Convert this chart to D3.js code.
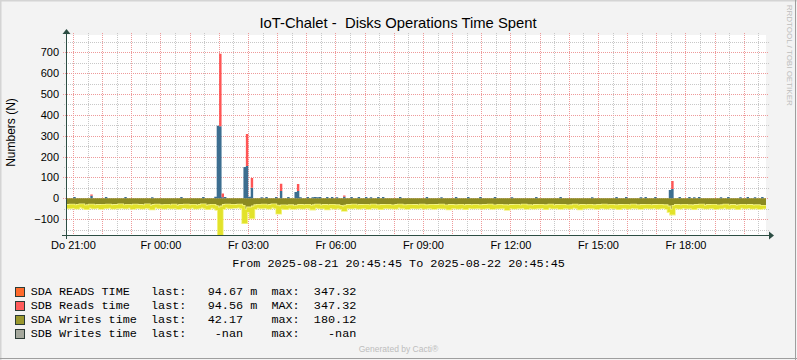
<!DOCTYPE html>
<html><head><meta charset="utf-8">
<script src="https://cdn.jsdelivr.net/npm/d3@7"></script>
<style>
html,body{margin:0;padding:0;background:#F3F3F3;}
svg{display:block;}
text{font-family:"Liberation Sans",Arial,sans-serif;white-space:pre;}
.mono{font-family:"Liberation Mono","Courier New",monospace;white-space:pre;}
</style>
</head><body>
<svg id="c" width="797" height="360" xml:space="preserve"></svg>
<script>
const title = "IoT-Chalet -  Disks Operations Time Spent";
const yLabel = "Numbers (N)";
const yTicks = [-100, 0, 100, 200, 300, 400, 500, 600, 700];
const xTickLabels = ["Do 21:00","Fr 00:00","Fr 03:00","Fr 06:00","Fr 09:00","Fr 12:00","Fr 15:00","Fr 18:00"];
const rangeText = "From 2025-08-21 20:45:45 To 2025-08-22 20:45:45";
const legendNames = ["SDA READS TIME","SDB Reads time","SDA Writes time","SDB Writes time"];
const legendLast = ["94.67 m","94.56 m","42.17"," -nan"];
const legendMaxLabel = ["max:","MAX:","max:","max:"];
const legendMax = ["347.32","347.32","180.12","  -nan"];
const legendColors = ["#FF6A2C","#FF5B5B","#9A982E","#A5A89D"];

// 5-minute samples, 288 per series, starting 2025-08-21 20:45:45
const sdaReads = [
 0,0,0,6,0,0,0,0,0,0,12,0,0,0,0,0,6,0,0,0,0,0,0,0,
 6,0,0,0,0,0,0,0,0,0,0,5,0,0,0,0,0,0,0,0,0,0,0,6,
 0,0,0,0,0,0,0,0,6,0,0,0,0,7,347.32,346,5,6,0,0,0,0,0,0,
 0,150,155,8,50,0,0,0,5,0,6,0,0,0,6,0,35,0,0,6,0,0,30,35,
 5,0,0,6,0,5,6,5,6,0,0,6,0,6,0,5,0,0,8,0,0,6,0,0,
 6,0,0,6,0,5,0,0,6,0,6,0,0,0,0,0,0,6,0,0,0,0,0,0,
 0,0,0,0,6,0,0,0,0,0,5,0,0,0,0,0,6,0,0,0,0,6,0,0,
 0,0,6,0,0,0,0,0,6,0,0,0,0,0,0,5,0,0,0,0,0,0,0,0,
 0,6,0,0,0,0,0,0,0,0,0,6,0,0,0,0,0,0,0,0,0,0,0,0,
 5,0,0,0,0,0,0,0,0,0,6,0,0,0,6,0,0,0,0,0,5,0,6,0,
 0,0,6,0,0,0,0,0,40,45,0,0,6,0,0,0,6,0,5,0,6,0,0,0,
 0,0,0,0,0,5,0,0,6,0,0,0,0,5,0,0,6,0,0,5,0,0,6,0
];
const sdbReads = [
 0,0,0,0,0,0,0,0,0,0,6,0,0,0,0,0,0,0,0,0,0,0,0,0,
 0,0,0,0,0,0,0,0,0,0,0,0,0,0,0,0,0,0,0,0,0,0,0,0,
 0,0,0,0,0,0,0,0,0,0,0,0,0,0,0,347.32,18,0,0,0,0,0,0,0,
 0,0,153,0,47,0,0,0,0,0,0,0,0,0,0,0,35,0,0,0,0,0,0,33,
 0,0,0,0,0,0,0,0,0,0,0,0,0,0,0,0,0,0,6,0,0,0,0,0,
 0,0,0,0,0,0,0,0,0,0,0,0,0,0,0,0,0,0,0,0,0,0,0,0,
 0,0,0,0,0,0,0,0,0,0,0,0,0,0,0,0,0,0,0,0,0,0,0,0,
 0,0,0,0,0,0,0,0,0,0,0,0,0,0,0,0,0,0,0,0,0,0,0,0,
 0,0,0,0,0,0,0,0,0,0,0,0,0,0,0,0,0,0,0,0,0,0,0,0,
 0,0,0,0,0,0,0,0,0,0,0,0,0,0,0,0,0,0,0,0,0,0,0,0,
 0,0,0,0,0,0,0,0,0,38,0,0,0,0,0,0,0,0,0,0,0,0,0,0,
 0,0,0,0,0,0,0,0,0,0,0,0,0,0,0,0,0,0,0,0,0,0,0,0
];
const sdaWrites = [
 38,42,36,40,44,37,35,41,46,39,36,43,40,38,45,37,41,36,39,44,38,42,35,40,
 43,37,39,45,36,41,38,44,40,35,42,47,38,36,41,39,44,37,40,43,36,42,45,38,
 40,36,43,39,37,44,41,38,35,42,46,39,37,43,50,180.12,45,38,36,41,37,40,38,36,
 42,113,60,50,90,45,39,37,42,36,40,44,38,35,41,68,44,40,46,42,39,45,43,41,
 38,44,40,37,42,48,39,36,41,43,38,47,40,37,44,39,42,45,55,41,38,43,36,40,
 44,38,41,37,45,40,36,42,39,46,38,41,37,43,40,44,38,36,42,39,45,37,41,38,
 43,40,36,44,39,42,37,45,38,41,36,43,40,47,38,42,39,44,37,41,46,38,40,43,
 37,42,39,44,38,41,36,45,40,43,37,42,39,50,41,38,44,37,42,40,36,45,39,41,
 44,38,42,37,40,46,39,36,43,41,38,45,37,42,40,44,39,36,41,47,38,43,40,37,
 42,39,45,38,41,36,44,40,37,43,39,46,38,41,37,44,40,36,42,39,45,38,41,37,
 43,40,38,44,37,41,39,45,60,72,42,38,44,40,37,43,39,41,46,38,40,36,42,44,
 38,41,37,45,40,43,39,36,44,41,38,42,46,39,37,43,40,38,44,41,39,45,42,42.17
];

const W = 797, H = 360;
const L = 66, R = 766, T = 35, B = 235;
const start = new Date(2025, 7, 21, 20, 45, 45);
const end = new Date(2025, 7, 22, 20, 45, 45);
const stepMs = 5 * 60 * 1000;

const svg = d3.select("#c");
const x = d3.scaleTime().domain([start, end]).range([L, R]);
const y = d3.scaleLinear().domain([-176, 783]).range([B, T]);

// frame / background
svg.append("rect").attr("width", W).attr("height", H).attr("fill", "#F3F3F3");
svg.append("rect").attr("x", 0).attr("y", 0).attr("width", W).attr("height", 1.5).attr("fill", "#D4D4D4");
svg.append("rect").attr("x", 0).attr("y", 0).attr("width", 1.5).attr("height", H).attr("fill", "#D4D4D4");
svg.append("rect").attr("x", 795).attr("y", 0).attr("width", 1).attr("height", H).attr("fill", "#9E9E9E");
svg.append("rect").attr("x", 0).attr("y", 358).attr("width", W).attr("height", 1).attr("fill", "#9E9E9E");

// canvas
svg.append("rect").attr("x", L).attr("y", T).attr("width", R - L).attr("height", B - T).attr("fill", "#FFFFFF");

// grid
const grid = svg.append("g");
const halfHours = d3.timeMinute.every(30).range(start, end);
const yGrid = d3.range(-150, 751, 50);
grid.selectAll(".vmin").data(halfHours.filter(d => d.getMinutes() !== 0)).join("line")
  .attr("x1", d => Math.round(x(d)) + 0.5).attr("x2", d => Math.round(x(d)) + 0.5)
  .attr("y1", T - 2).attr("y2", B + 2)
  .attr("stroke", "#C8C8C8").attr("stroke-dasharray", "1,1");
grid.selectAll(".hmin").data(yGrid.filter(v => v % 100 !== 0)).join("line")
  .attr("x1", L - 2).attr("x2", R + 3)
  .attr("y1", d => Math.round(y(d)) + 0.5).attr("y2", d => Math.round(y(d)) + 0.5)
  .attr("stroke", "#C8C8C8").attr("stroke-dasharray", "1,1");
grid.selectAll(".vmaj").data(halfHours.filter(d => d.getMinutes() === 0)).join("line")
  .attr("x1", d => Math.round(x(d)) + 0.5).attr("x2", d => Math.round(x(d)) + 0.5)
  .attr("y1", T - 2).attr("y2", B + 2)
  .attr("stroke", "#EE9A9A").attr("stroke-dasharray", "1,1");
grid.selectAll(".hmaj").data(yGrid.filter(v => v % 100 === 0)).join("line")
  .attr("x1", L - 3).attr("x2", R + 3)
  .attr("y1", d => Math.round(y(d)) + 0.5).attr("y2", d => Math.round(y(d)) + 0.5)
  .attr("stroke", "#EE9A9A").attr("stroke-dasharray", "1,1");

// data
svg.append("clipPath").attr("id", "clip").append("rect")
  .attr("x", L).attr("y", T).attr("width", R - L).attr("height", B - T);
const plot = svg.append("g").attr("clip-path", "url(#clip)");

const n = sdaReads.length;
const pts = d3.range(n + 1).map(i => {
  const k = Math.min(i, n - 1);
  return { t: new Date(+start + i * stepMs), a: sdaReads[k], b: sdbReads[k], w: sdaWrites[k] };
});

plot.append("path").datum(pts)
  .attr("fill", "#8B8A22")
  .attr("d", d3.area().curve(d3.curveStepAfter).x(d => x(d.t)).y0(y(0)).y1(d => y(-d.w)));
const wline = d3.line().curve(d3.curveStepAfter).x(d => x(d.t)).y(d => y(-d.w));
plot.append("path").datum(pts).attr("fill", "none").attr("stroke", "#F4F488").attr("stroke-width", 4.2).attr("d", wline);
plot.append("path").datum(pts).attr("fill", "none").attr("stroke", "#E2E22A").attr("stroke-width", 2.6).attr("d", wline);

plot.append("path").datum(pts)
  .attr("fill", "#3C6E90")
  .attr("d", d3.area().curve(d3.curveStepAfter).x(d => x(d.t)).y0(y(0)).y1(d => y(d.a)));
plot.append("path").datum(pts)
  .attr("fill", "#FF5555")
  .attr("d", d3.area().curve(d3.curveStepAfter).x(d => x(d.t)).y0(d => y(d.a)).y1(d => y(d.a + d.b)));

// axes lines
const axisColor = "#2C4D43";
svg.append("line").attr("x1", 62).attr("x2", 770).attr("y1", B + 0.5).attr("y2", B + 0.5).attr("stroke", axisColor);
svg.append("line").attr("x1", L + 0.5).attr("x2", L + 0.5).attr("y1", B + 4).attr("y2", T - 3).attr("stroke", axisColor);
svg.append("path").attr("d", `M769,231.5L774,235.5L769,239.5Z`).attr("fill", axisColor);
svg.append("path").attr("d", `M62.5,34L66.5,29L70.5,34Z`).attr("fill", axisColor);

// axis labels via d3 axes
const yAxis = svg.append("g").attr("transform", `translate(${L},0)`)
  .call(d3.axisLeft(y).tickValues(yTicks).tickFormat(d3.format("d")).tickSize(0).tickPadding(7));
yAxis.select(".domain").remove();
yAxis.selectAll("text").attr("font-size", 11).attr("fill", "#000").attr("font-family", '"Liberation Sans",Arial,sans-serif');

const xTickTimes = xTickLabels.map((_, i) => new Date(2025, 7, 21, 21 + 3 * i, 0, 0));
const xAxis = svg.append("g").attr("transform", `translate(0,${B})`)
  .call(d3.axisBottom(x).tickValues(xTickTimes).tickFormat((d, i) => xTickLabels[i]).tickSize(0).tickPadding(6));
xAxis.select(".domain").remove();
xAxis.selectAll("text").attr("font-size", 11).attr("fill", "#000").attr("font-family", '"Liberation Sans",Arial,sans-serif');

// titles
svg.append("text").attr("x", 398).attr("y", 28).attr("text-anchor", "middle")
  .attr("font-size", 14.8).attr("fill", "#000").text(title);
svg.append("text").attr("transform", "translate(15.3,132.5) rotate(-90)").attr("text-anchor", "middle")
  .attr("font-size", 12).attr("fill", "#000").text(yLabel);
svg.append("text").attr("transform", "translate(786.5,4.7) rotate(90)").attr("text-anchor", "start")
  .attr("font-size", 8).attr("fill", "#BDBDBD").text("RRDTOOL / TOBI OETIKER");

// date range
svg.append("text").attr("class", "mono").attr("x", 398.5).attr("y", 266.5).attr("text-anchor", "middle")
  .attr("font-size", 11.8).attr("fill", "#000").text(rangeText);

// legend
const lg = svg.append("g");
legendNames.forEach((name, i) => {
  const yb = 294.5 + i * 14;
  lg.append("rect").attr("x", 15.5).attr("y", yb - 7).attr("width", 9).attr("height", 9)
    .attr("fill", legendColors[i]).attr("stroke", "#2B3B36").attr("stroke-width", 1);
  const row = name.padEnd(17, " ") + "last:   " + legendLast[i].padEnd(9, " ") + legendMaxLabel[i] + "  " + legendMax[i];
  lg.append("text").attr("class", "mono").attr("x", 30.7).attr("y", yb)
    .attr("font-size", 11.8).attr("fill", "#000").text(row);
});

svg.append("text").attr("x", 398.5).attr("y", 351.5).attr("text-anchor", "middle")
  .attr("font-size", 8.5).attr("fill", "#BDBDBD").text("Generated by Cacti\u00AE");
</script>
</body></html>
